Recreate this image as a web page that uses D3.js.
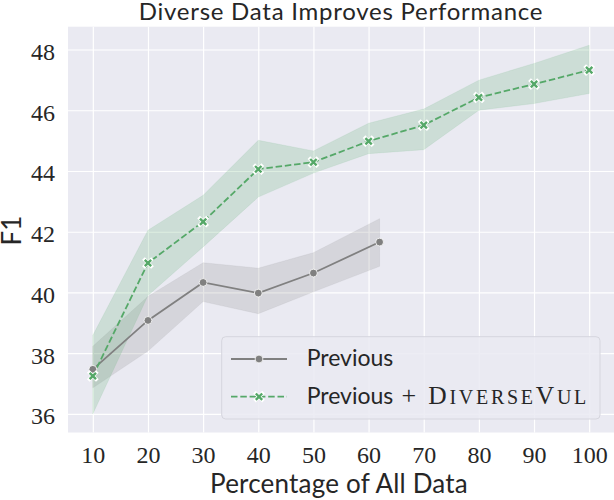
<!DOCTYPE html>
<html>
<head>
<meta charset="utf-8">
<script src="https://cdn.jsdelivr.net/npm/d3@7"></script>
<style>
  html, body { margin: 0; padding: 0; background: #ffffff; }
  svg { display: block; }
  .serif { font-family: 'Liberation Serif', 'DejaVu Serif', serif; }
  .sans { font-family: Lato, 'DejaVu Sans', sans-serif; }
</style>
</head>
<body>
<div id="chart"></div>
<script>
// ---- data ----
const prevPct = [10, 20, 30, 40, 50, 62];
const prevF1  = [37.47, 39.08, 40.33, 39.98, 40.64, 41.66];
const prevLo  = [36.86, 38.07, 39.70, 39.30, 40.02, 40.86];
const prevHi  = [38.23, 39.87, 40.98, 40.80, 41.31, 42.43];

const divPct = [10, 20, 30, 40, 50, 60, 70, 80, 90, 100];
const divF1  = [37.25, 40.97, 42.33, 44.06, 44.29, 44.98, 45.51, 46.42, 46.86, 47.32];
const divLo  = [36.00, 39.90, 41.50, 43.14, 43.93, 44.57, 44.70, 46.00, 46.22, 46.55];
const divHi  = [38.59, 42.05, 43.20, 45.01, 44.66, 45.57, 46.04, 46.99, 47.54, 48.14];

const xTicks = [10, 20, 30, 40, 50, 60, 70, 80, 90, 100];
const yTicks = [36, 38, 40, 42, 44, 46, 48];

const titleText = "Diverse Data Improves Performance";
const xLabel = "Percentage of All Data";
const yLabel = "F1";
const legendPrev = "Previous";

// ---- layout ----
const W = 614, H = 500;
const pL = 68, pR = 614, pT = 26.7, pB = 432.5;
const BG = "#EAEAF2";
const GRAY = "#808080";
const GREEN = "#55A868";
const INK = "#262626";

const svg = d3.select("#chart").append("svg")
  .attr("width", W).attr("height", H)
  .attr("viewBox", `0 0 ${W} ${H}`);

const x = d3.scaleLinear().domain([5.5, 104.5]).range([pL, pR]);
const y = d3.scaleLinear().domain([35.39, 48.75]).range([pB, pT]);

// background
svg.append("rect").attr("x", pL).attr("y", pT)
  .attr("width", pR - pL).attr("height", pB - pT).attr("fill", BG);

// grid via axes
const gx = svg.append("g").attr("transform", `translate(0,${pB})`)
  .call(d3.axisBottom(x).tickValues(xTicks).tickSize(-(pB - pT)).tickFormat(""));
gx.select(".domain").remove();
gx.selectAll(".tick line").attr("stroke", "#ffffff").attr("stroke-width", 1.2);

const gy = svg.append("g").attr("transform", `translate(${pL},0)`)
  .call(d3.axisLeft(y).tickValues(yTicks).tickSize(-(pR - pL)).tickFormat(""));
gy.select(".domain").remove();
gy.selectAll(".tick line").attr("stroke", "#ffffff").attr("stroke-width", 1.2);

// tick labels
const xl = svg.append("g").attr("transform", `translate(0,${pB})`)
  .call(d3.axisBottom(x).tickValues(xTicks).tickSize(0).tickPadding(0).tickFormat(d3.format("d")));
xl.select(".domain").remove();
xl.attr("font-family", null).attr("font-size", null);
xl.selectAll("text").attr("class", "serif").style("font-size", "24px")
  .attr("fill", INK).attr("dy", null).attr("y", 30.5);

const yl = svg.append("g").attr("transform", `translate(${pL},0)`)
  .call(d3.axisLeft(y).tickValues(yTicks).tickSize(0).tickPadding(0).tickFormat(d3.format("d")));
yl.select(".domain").remove();
yl.attr("font-family", null).attr("font-size", null);
yl.selectAll("text").attr("class", "serif").style("font-size", "24px")
  .attr("fill", INK).attr("dy", null).attr("x", -13).attr("y", 10);

// bands
const prevRows = prevPct.map((p, i) => ({x: p, y: prevF1[i], lo: prevLo[i], hi: prevHi[i]}));
const divRows = divPct.map((p, i) => ({x: p, y: divF1[i], lo: divLo[i], hi: divHi[i]}));

const area = d3.area().x(d => x(d.x)).y0(d => y(d.lo)).y1(d => y(d.hi));
svg.append("path").datum(prevRows).attr("d", area)
  .attr("fill", GRAY).attr("fill-opacity", 0.2)
  .attr("stroke", GRAY).attr("stroke-opacity", 0.12).attr("stroke-width", 0.8);
svg.append("path").datum(divRows).attr("d", area)
  .attr("fill", GREEN).attr("fill-opacity", 0.2)
  .attr("stroke", GREEN).attr("stroke-opacity", 0.12).attr("stroke-width", 0.8);

// lines
const line = d3.line().x(d => x(d.x)).y(d => y(d.y));
svg.append("path").datum(prevRows).attr("d", line)
  .attr("fill", "none").attr("stroke", GRAY).attr("stroke-width", 1.8);
svg.append("path").datum(divRows).attr("d", line)
  .attr("fill", "none").attr("stroke", GREEN).attr("stroke-width", 1.8)
  .attr("stroke-dasharray", "6.5,2.8");

// markers
const circleSym = d3.symbol().type(d3.symbolCircle).size(48);
const xSym = d3.symbol().type(d3.symbolX).size(28);
svg.append("g").selectAll("path").data(prevRows).join("path")
  .attr("d", circleSym).attr("transform", d => `translate(${x(d.x)},${y(d.y)})`)
  .attr("fill", GRAY).attr("stroke", "#ffffff").attr("stroke-width", 0.8);
svg.append("g").selectAll("path").data(divRows).join("path")
  .attr("d", xSym).attr("transform", d => `translate(${x(d.x)},${y(d.y)})`)
  .attr("fill", "none").attr("stroke", "#ffffff").attr("stroke-width", 3.8).attr("stroke-linecap", "square");
svg.append("g").selectAll("path").data(divRows).join("path")
  .attr("d", xSym).attr("transform", d => `translate(${x(d.x)},${y(d.y)})`)
  .attr("fill", "none").attr("stroke", GREEN).attr("stroke-width", 2.4).attr("stroke-linecap", "butt");

// title and labels
svg.append("text").attr("class", "sans").attr("x", (pL + pR) / 2).attr("y", 19.5)
  .attr("text-anchor", "middle").style("font-size", "24px").style("letter-spacing", "0.75px")
  .attr("fill", INK).text(titleText);
svg.append("text").attr("class", "sans").attr("x", (pL + pR) / 2 - 2).attr("y", 493)
  .attr("text-anchor", "middle").style("font-size", "26px").style("letter-spacing", "0.2px")
  .attr("fill", INK).text(xLabel);
svg.append("text").attr("class", "sans").attr("transform", "translate(21,230.5) rotate(-90)")
  .attr("text-anchor", "middle").style("font-size", "26px")
  .attr("fill", INK).text(yLabel);

// legend
const lg = svg.append("g");
lg.append("rect").attr("x", 221.7).attr("y", 336.7).attr("width", 378.3).attr("height", 82.3)
  .attr("rx", 4).attr("fill", BG).attr("fill-opacity", 0.85)
  .attr("stroke", "#D6D6DE").attr("stroke-width", 1);
const r1 = 359, r2 = 396.7;
lg.append("line").attr("x1", 231).attr("x2", 287).attr("y1", r1).attr("y2", r1)
  .attr("stroke", GRAY).attr("stroke-width", 1.8);
lg.append("path").attr("d", circleSym).attr("transform", `translate(259,${r1})`)
  .attr("fill", GRAY).attr("stroke", "#ffffff").attr("stroke-width", 0.8);
lg.append("line").attr("x1", 231).attr("x2", 287).attr("y1", r2).attr("y2", r2)
  .attr("stroke", GREEN).attr("stroke-width", 1.8).attr("stroke-dasharray", "6.5,2.8");
lg.append("path").attr("d", xSym).attr("transform", `translate(259,${r2})`)
  .attr("fill", "none").attr("stroke", "#ffffff").attr("stroke-width", 3.8).attr("stroke-linecap", "square");
lg.append("path").attr("d", xSym).attr("transform", `translate(259,${r2})`)
  .attr("fill", "none").attr("stroke", GREEN).attr("stroke-width", 2.4);

lg.append("text").attr("class", "sans").attr("x", 306.7).attr("y", 366).style("font-size", "23px")
  .attr("fill", INK).text(legendPrev);
lg.append("text").attr("class", "sans").attr("x", 306.7).attr("y", 403.5).style("font-size", "23px")
  .attr("fill", INK).text(legendPrev);
lg.append("text").attr("class", "serif").attr("x", 408.8).attr("y", 403.5).attr("text-anchor", "middle")
  .style("font-size", "26px").attr("fill", INK).text("+");
const sc = lg.append("text").attr("class", "serif").attr("x", 428.3).attr("y", 403.5)
  .attr("fill", INK).attr("textLength", 158).attr("lengthAdjust", "spacing");
sc.append("tspan").style("font-size", "25.5px").text("D");
sc.append("tspan").style("font-size", "20px").text("IVERSE");
sc.append("tspan").style("font-size", "25.5px").text("V");
sc.append("tspan").style("font-size", "20px").text("UL");
</script>
</body>
</html>
